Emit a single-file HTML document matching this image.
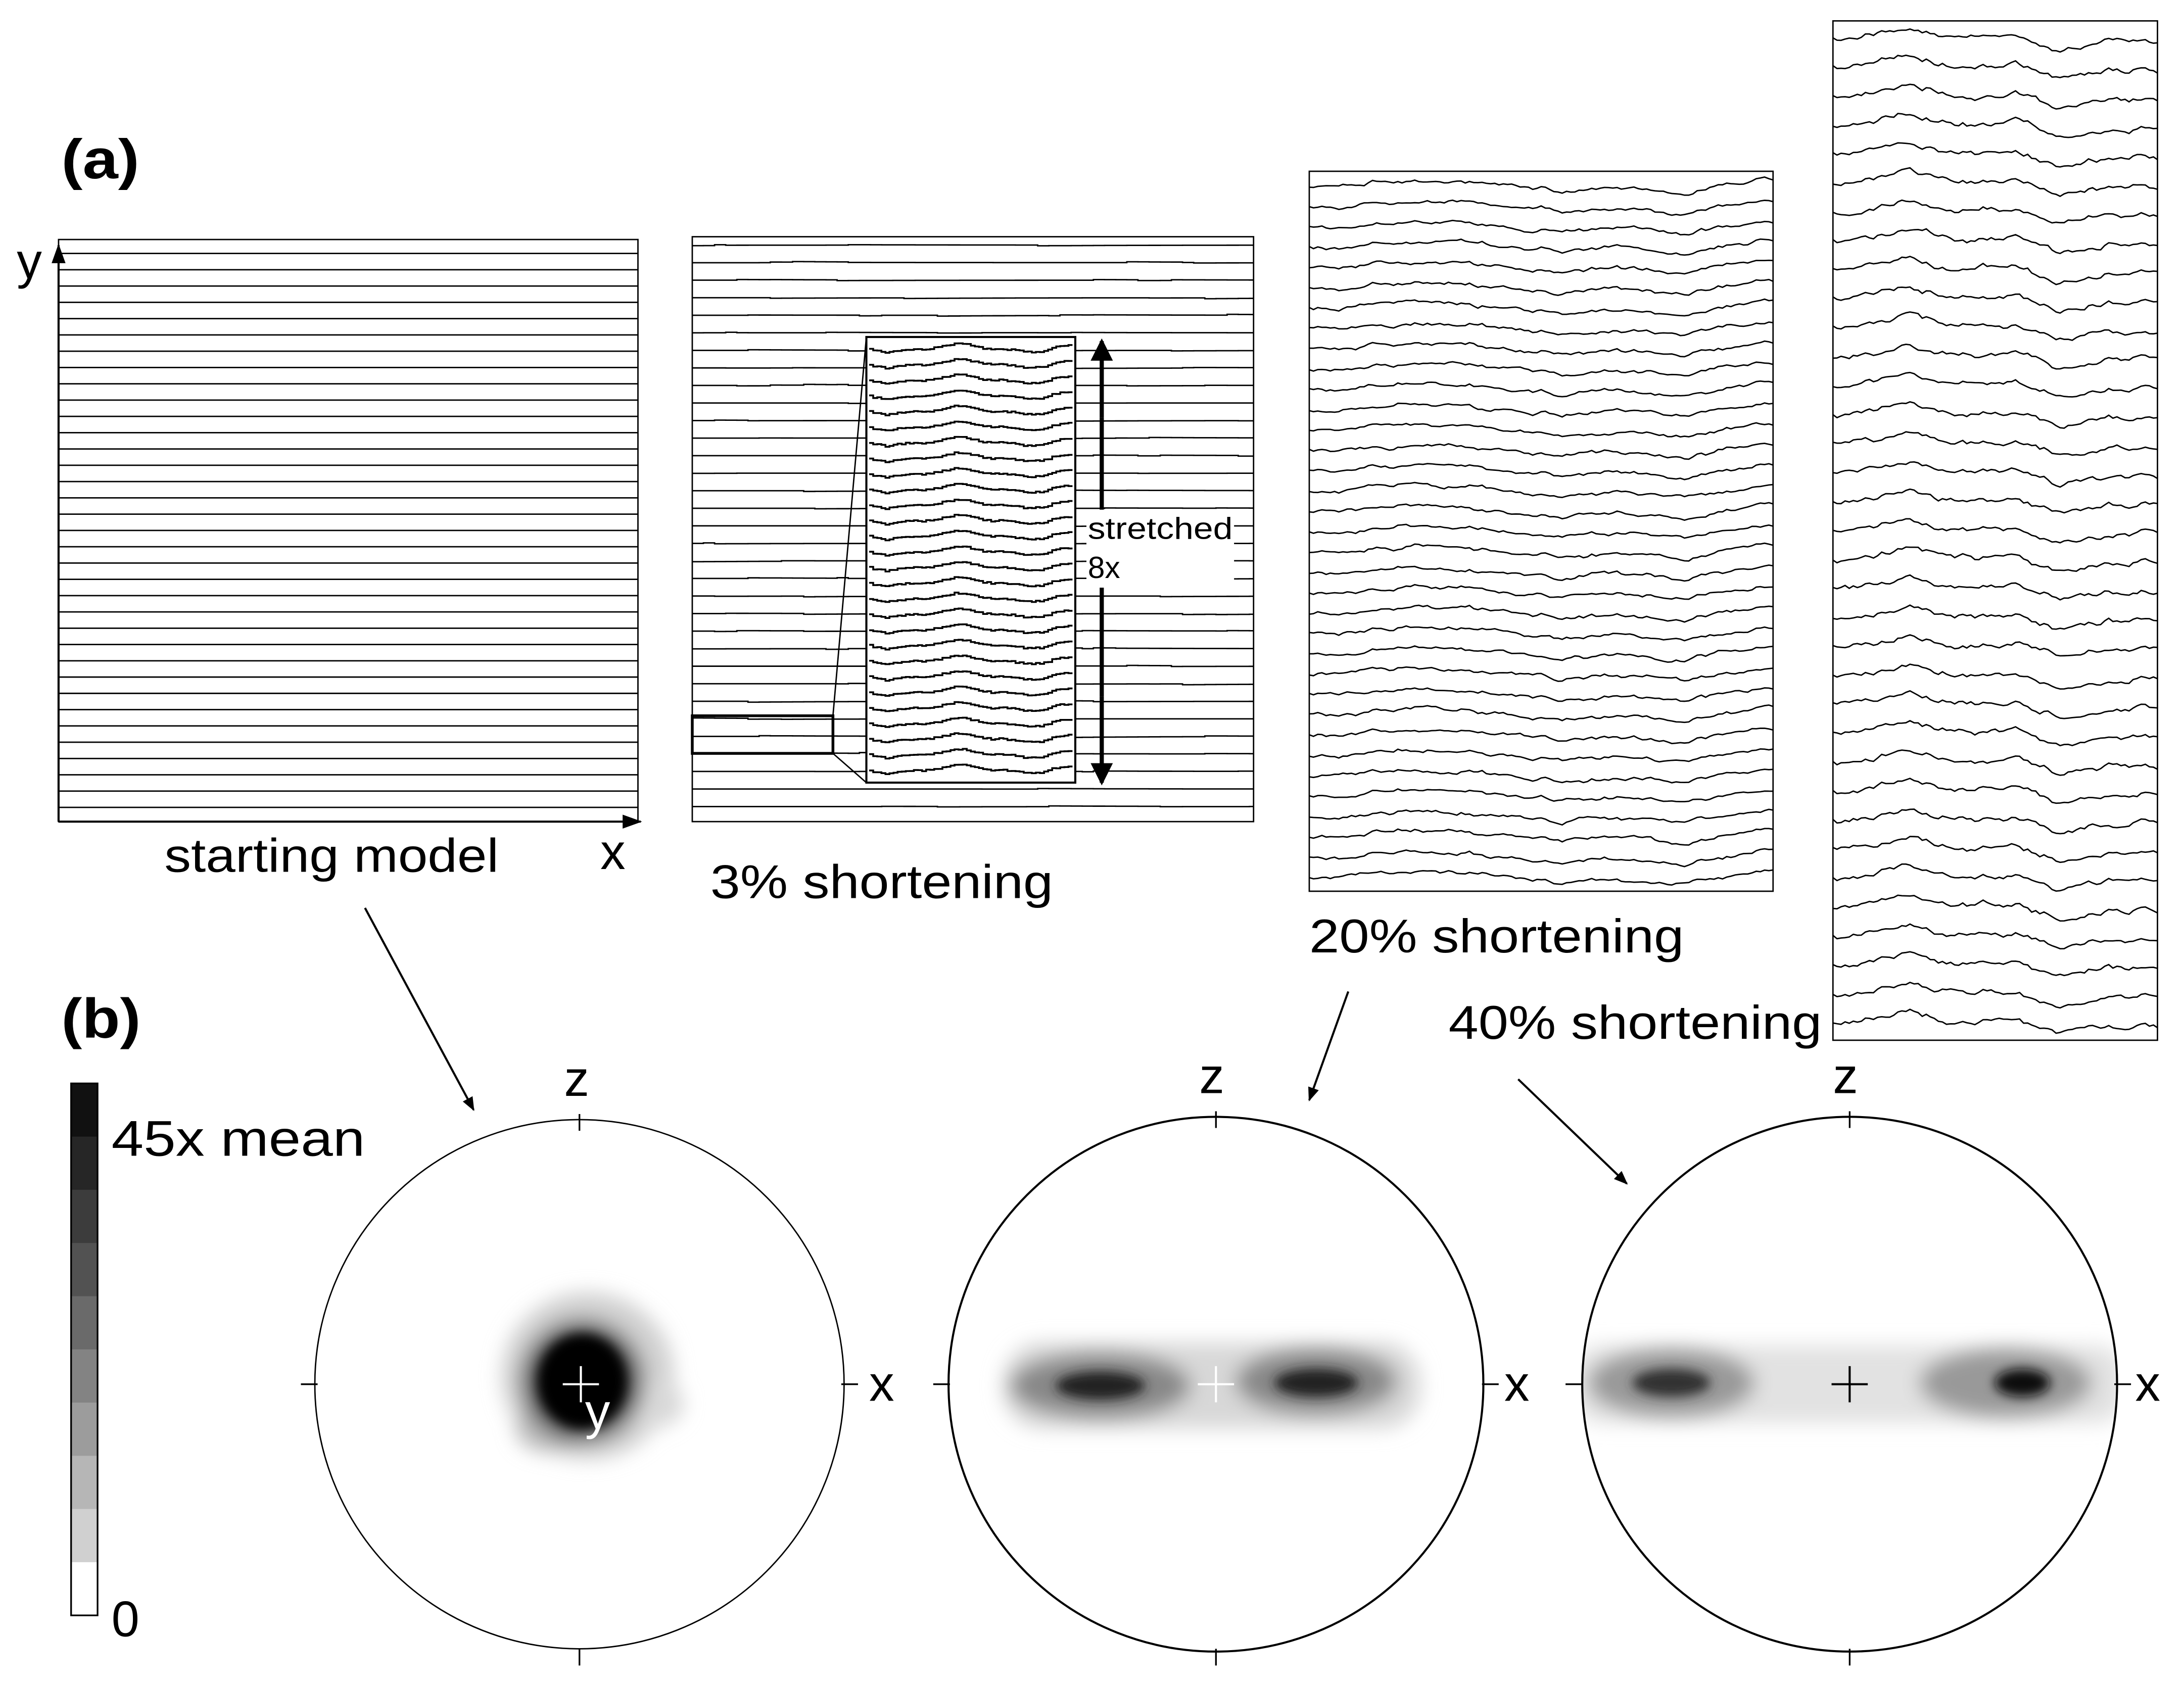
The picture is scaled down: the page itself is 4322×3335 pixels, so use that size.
<!DOCTYPE html>
<html><head><meta charset="utf-8">
<style>
html,body{margin:0;padding:0;background:#fff;}
svg{display:block;}
text{font-family:"Liberation Sans",Arial,sans-serif;fill:#000;}
</style></head>
<body>
<svg id="s" width="4322" height="3335" viewBox="0 0 1568 1210" xmlns="http://www.w3.org/2000/svg">
<defs>
<filter id="bl" x="-50%" y="-50%" width="200%" height="200%"><feGaussianBlur stdDeviation="7"/></filter>
<filter id="bl2" x="-50%" y="-50%" width="200%" height="200%"><feGaussianBlur stdDeviation="4"/></filter>
<marker id="ah" markerWidth="10" markerHeight="10" refX="9" refY="5" orient="auto" markerUnits="userSpaceOnUse"><path d="M0,1 L10,5 L0,9 Z" fill="#000"/></marker>
<marker id="ahx" markerWidth="14" markerHeight="12" refX="13" refY="6" orient="auto" markerUnits="userSpaceOnUse"><path d="M0,1 L14,6 L0,11 Z" fill="#000"/></marker>
<marker id="ahb" markerWidth="16" markerHeight="18" refX="14" refY="8" orient="auto" markerUnits="userSpaceOnUse"><path d="M0,0 L16,8 L0,16 Z" fill="#000"/></marker>
<clipPath id="c1"><circle cx="416" cy="994" r="190"/></clipPath>
<clipPath id="c2"><circle cx="873" cy="994" r="192"/></clipPath>
<clipPath id="c3"><circle cx="1328" cy="994" r="192"/></clipPath>
</defs>
<rect width="1568" height="1210" fill="#fff"/>

<text x="44" y="128" font-size="40" font-weight="bold" textLength="56" lengthAdjust="spacingAndGlyphs">(a)</text>
<text x="44" y="745" font-size="40" font-weight="bold" textLength="57" lengthAdjust="spacingAndGlyphs">(b)</text>

<g id="p1"></g>
<rect x="42" y="172" width="416" height="418" fill="none" stroke="#000" stroke-width="1"/>
<line x1="42" y1="590" x2="42" y2="176" stroke="#000" stroke-width="1.5" marker-end="url(#ahx)"/>
<line x1="42" y1="590" x2="460" y2="590" stroke="#000" stroke-width="1.5" marker-end="url(#ahx)"/>
<text x="12" y="200" font-size="36">y</text>
<text x="431" y="624" font-size="36">x</text>
<text x="118" y="626" font-size="34" textLength="240" lengthAdjust="spacingAndGlyphs">starting model</text>

<g id="p2"></g>
<rect x="497" y="170" width="403" height="420" fill="none" stroke="#000" stroke-width="1"/>
<rect x="622" y="242" width="150" height="320" fill="#fff" stroke="#000" stroke-width="1.5"/>
<g id="p2i"></g>
<rect x="497" y="514" width="101" height="27" fill="none" stroke="#000" stroke-width="2"/>
<line x1="598" y1="514" x2="622" y2="242" stroke="#000" stroke-width="1"/>
<line x1="598" y1="541" x2="622" y2="562" stroke="#000" stroke-width="1"/>
<rect x="780" y="366" width="106" height="56" fill="#fff"/>
<line x1="791" y1="300" x2="791" y2="245" stroke="#000" stroke-width="3" marker-end="url(#ahb)"/>
<line x1="791" y1="500" x2="791" y2="562" stroke="#000" stroke-width="3" marker-end="url(#ahb)"/>
<line x1="791" y1="300" x2="791" y2="366" stroke="#000" stroke-width="3"/>
<line x1="791" y1="422" x2="791" y2="500" stroke="#000" stroke-width="3"/>
<text x="781" y="387" font-size="22" textLength="104" lengthAdjust="spacingAndGlyphs">stretched</text>
<text x="781" y="415" font-size="22">8x</text>
<text x="510" y="645" font-size="34" textLength="246" lengthAdjust="spacingAndGlyphs">3% shortening</text>

<g id="p3"></g>
<rect x="940" y="123" width="333" height="517" fill="none" stroke="#000" stroke-width="1"/>
<text x="940" y="684" font-size="34" textLength="269" lengthAdjust="spacingAndGlyphs">20% shortening</text>

<g id="p4"></g>
<rect x="1316" y="15" width="233" height="732" fill="none" stroke="#000" stroke-width="1"/>
<text x="1040" y="746" font-size="34" textLength="268" lengthAdjust="spacingAndGlyphs">40% shortening</text>

<line x1="262" y1="652" x2="340" y2="797" stroke="#000" stroke-width="1.5" marker-end="url(#ah)"/>
<line x1="968" y1="712" x2="940" y2="790" stroke="#000" stroke-width="1.5" marker-end="url(#ah)"/>
<line x1="1090" y1="775" x2="1168" y2="850" stroke="#000" stroke-width="1.5" marker-end="url(#ah)"/>

<g id="cb"></g>
<rect x="51" y="778" width="19" height="382" fill="none" stroke="#000" stroke-width="1.2"/>
<text x="80" y="830" font-size="36" textLength="182" lengthAdjust="spacingAndGlyphs">45x mean</text>
<text x="80" y="1175" font-size="36">0</text>

<g clip-path="url(#c1)">
 <g filter="url(#bl)">
  <ellipse cx="422" cy="988" rx="62" ry="60" fill="#d0d0d0"/>
  <ellipse cx="465" cy="1008" rx="26" ry="18" fill="#d8d8d8"/>
  <ellipse cx="395" cy="1025" rx="25" ry="18" fill="#bbb"/>
  <ellipse cx="418" cy="992" rx="44" ry="44" fill="#555"/>
 </g>
 <g filter="url(#bl2)">
  <ellipse cx="418" cy="992" rx="32" ry="34" fill="#000"/>
 </g>
</g>
<circle cx="416" cy="994" r="190" fill="none" stroke="#000" stroke-width="1"/>
<line x1="404" y1="994" x2="430" y2="994" stroke="#fff" stroke-width="1.5"/>
<line x1="417" y1="981" x2="417" y2="1007" stroke="#fff" stroke-width="1.5"/>
<text x="420" y="1026" font-size="36" style="fill:#fff">y</text>

<g clip-path="url(#c2)">
 <g filter="url(#bl)">
  <rect x="720" y="964" width="300" height="62" rx="28" fill="#d8d8d8"/>
  <ellipse cx="790" cy="995" rx="65" ry="24" fill="#888"/>
  <ellipse cx="945" cy="992" rx="58" ry="24" fill="#888"/>
 </g>
 <g filter="url(#bl2)">
  <ellipse cx="790" cy="995" rx="32" ry="10" fill="#222"/>
  <ellipse cx="945" cy="993" rx="30" ry="10" fill="#222"/>
 </g>
</g>
<circle cx="873" cy="994" r="192" fill="none" stroke="#000" stroke-width="1.5"/>
<line x1="860" y1="994" x2="886" y2="994" stroke="#fff" stroke-width="1.5"/>
<line x1="873" y1="981" x2="873" y2="1007" stroke="#fff" stroke-width="1.5"/>

<g clip-path="url(#c3)">
 <g filter="url(#bl)">
  <rect x="1130" y="966" width="395" height="56" rx="20" fill="#e2e2e2"/>
  <ellipse cx="1200" cy="993" rx="60" ry="25" fill="#999"/>
  <ellipse cx="1440" cy="993" rx="62" ry="25" fill="#999"/>
 </g>
 <g filter="url(#bl2)">
  <ellipse cx="1200" cy="993" rx="28" ry="10" fill="#333"/>
  <ellipse cx="1452" cy="993" rx="20" ry="10" fill="#111"/>
 </g>
</g>
<circle cx="1328" cy="994" r="192" fill="none" stroke="#000" stroke-width="1.5"/>
<line x1="1315" y1="994" x2="1341" y2="994" stroke="#000" stroke-width="1.5"/>
<line x1="1328" y1="981" x2="1328" y2="1007" stroke="#000" stroke-width="1.5"/>

<g stroke="#000" stroke-width="1.2">
 <line x1="416" y1="800" x2="416" y2="812"/><line x1="416" y1="1184" x2="416" y2="1196"/>
 <line x1="216" y1="994" x2="228" y2="994"/><line x1="604" y1="994" x2="616" y2="994"/>
 <line x1="873" y1="798" x2="873" y2="810"/><line x1="873" y1="1184" x2="873" y2="1196"/>
 <line x1="670" y1="994" x2="682" y2="994"/><line x1="1064" y1="994" x2="1076" y2="994"/>
 <line x1="1328" y1="798" x2="1328" y2="810"/><line x1="1328" y1="1184" x2="1328" y2="1196"/>
 <line x1="1124" y1="994" x2="1136" y2="994"/><line x1="1518" y1="994" x2="1530" y2="994"/>
</g>
<text x="405" y="787" font-size="36">z</text>
<text x="624" y="1006" font-size="36">x</text>
<text x="861" y="785" font-size="36">z</text>
<text x="1080" y="1006" font-size="36">x</text>
<text x="1316" y="785" font-size="36">z</text>
<text x="1533" y="1006" font-size="36">x</text>
</svg>
<script>
(function(){
var NS="http://www.w3.org/2000/svg";
var seed=12345;function rnd(){seed=(seed*16807)%2147483647;return seed/2147483647;}
function pl(g,pts,w){var p=document.createElementNS(NS,"polyline");p.setAttribute("points",pts.join(" "));p.setAttribute("fill","none");p.setAttribute("stroke","#000");p.setAttribute("stroke-width",w||1);document.getElementById(g).appendChild(p);}
for(var i=0;i<35;i++){var y=182+i*11.7;pl("p1",["42,"+y,"458,"+y]);}
for(var i=0;i<33;i++){var y=176+i*12.6;var pts=[];var off=0;for(var x=497;x<900;x+=8){if(rnd()<0.1)off+=(rnd()-0.5)*1.4;off*=0.9;pts.push(x+","+(y+off).toFixed(2));pts.push(Math.min(900,x+8)+","+(y+off).toFixed(2));}pl("p2",pts);}
var inb=[];for(var k=0;k<=50;k++){var t=k/50;inb.push(4*Math.sin(t*6.28*1.6+0.3)+1.5*Math.sin(t*25)+(rnd()-0.5)*1.2);}
for(var i=0;i<28;i++){var y=250+i*11.2;var pts=[];for(var k=0;k<50;k++){var x=624+k*2.92;var yy=y+inb[k]*0.6+(rnd()-0.5)*0.8;yy=Math.max(243,Math.min(561,yy));pts.push(x.toFixed(1)+","+yy.toFixed(2));pts.push((x+2.92).toFixed(1)+","+yy.toFixed(2));}pl("p2i",pts,1.3);}
var n3=110,b3=[];var v=0;for(var k=0;k<=n3;k++){v+=(rnd()-0.5)*2.4;v*=0.9;var t=k/n3;b3.push(v-5*Math.sin(t*Math.PI*2.2)+2*Math.sin(t*17));}
for(var i=0;i<35;i++){var y=133+i*14.6;var pts=[];var loc=0;for(var k=0;k<=n3;k++){loc+=(rnd()-0.5)*2.2;loc*=0.8;var x=940+k*333/n3;pts.push(x.toFixed(1)+","+(y+b3[k]*0.8+loc).toFixed(2));}pl("p3",pts);}
var n4=80,b4=[];v=0;for(var k=0;k<=n4;k++){v+=(rnd()-0.5)*3;v*=0.88;var t=k/n4;b4.push(v-5*Math.sin(t*Math.PI*2)+2.5*Math.sin(t*20));}
for(var i=0;i<35;i++){var y=28+i*20.8;var pts=[];var loc=0;for(var k=0;k<=n4;k++){loc+=(rnd()-0.5)*3.2;loc*=0.75;var x=1316+k*233/n4;pts.push(x.toFixed(1)+","+(y+b4[k]*0.9+loc).toFixed(2));}pl("p4",pts);}
var cols=["#111","#262626","#3c3c3c","#525252","#6a6a6a","#838383","#9c9c9c","#b6b6b6","#d0d0d0","#ffffff"];
var h=382/10;for(var i=0;i<10;i++){var r=document.createElementNS(NS,"rect");r.setAttribute("x",51);r.setAttribute("y",778+i*h);r.setAttribute("width",19);r.setAttribute("height",h+0.5);r.setAttribute("fill",cols[i]);document.getElementById("cb").appendChild(r);}
})();
</script>
</body></html>
